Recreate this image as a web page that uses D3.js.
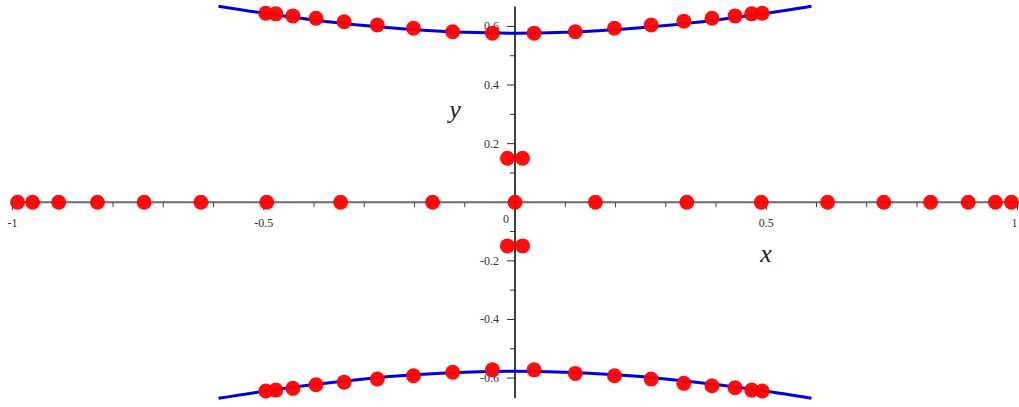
<!DOCTYPE html>
<html>
<head>
<meta charset="utf-8">
<script src="https://cdn.jsdelivr.net/npm/d3@7"></script>
<style>
  body { margin: 0; background: #fff; }
  svg { display: block; }
  text { font-family: "Liberation Serif", "DejaVu Serif", serif; }
</style>
</head>
<body>
<svg id="chart" width="1019" height="407"></svg>
<script>
// points on the x axis
var axisX = [-0.99, -0.96, -0.908, -0.831, -0.738, -0.625, -0.494, -0.347, -0.164, 0,
             0.16, 0.342, 0.49, 0.622, 0.734, 0.827, 0.902, 0.956, 0.988];

// points near the centre
var centreX = [-0.015, 0.015, -0.015, 0.015];
var centreY = [0.15, 0.15, -0.149, -0.149];

// upper branch points
var upperX = [-0.496, -0.476, -0.442, -0.396, -0.340, -0.274, -0.202, -0.124, -0.045,
              0.038, 0.120, 0.198, 0.271, 0.336, 0.392, 0.438, 0.471, 0.492];
var upperY = [0.645, 0.643, 0.636, 0.628, 0.616, 0.605, 0.594, 0.582, 0.577,
              0.577, 0.582, 0.594, 0.605, 0.618, 0.628, 0.636, 0.643, 0.645];

// lower branch points
var lowerX = upperX;
var lowerY = [-0.644, -0.641, -0.635, -0.623, -0.614, -0.603, -0.592, -0.580, -0.572,
              -0.572, -0.584, -0.592, -0.603, -0.618, -0.626, -0.633, -0.641, -0.644];

// blue curves
var curveX = [-0.59, -0.5, -0.4, -0.3, -0.2, -0.1, 0, 0.1, 0.2, 0.3, 0.4, 0.5, 0.59];
var curveUpper = [0.669, 0.645, 0.622, 0.603, 0.589, 0.580, 0.577, 0.580, 0.589, 0.603, 0.622, 0.645, 0.669];
var curveLower = [-0.669, -0.645, -0.622, -0.603, -0.589, -0.580, -0.577, -0.580, -0.589, -0.603, -0.622, -0.645, -0.669];

var xTicks = [-1, -0.5, 0.5, 1];
var xMinor = [-0.9, -0.8, -0.7, -0.6, -0.4, -0.3, -0.2, -0.1, 0.1, 0.2, 0.3, 0.4, 0.6, 0.7, 0.8, 0.9];
var yTicks = [0.6, 0.4, 0.2, -0.2, -0.4, -0.6];
var yMinor = [0.5, 0.3, 0.1, -0.1, -0.3, -0.5];

var svg = d3.select("#chart");

var x = d3.scaleLinear().domain([-1, 1]).range([12.5, 1017.5]);
var y = d3.scaleLinear().domain([-0.668, 0.668]).range([398, 6.5]);

// horizontal axis
var xAxis = svg.append("g");
xAxis.append("line")
    .attr("x1", x(-1)).attr("x2", x(1))
    .attr("y1", y(0)).attr("y2", y(0))
    .attr("stroke", "#6b6b6b").attr("stroke-width", 2);
xAxis.selectAll(".major").data(xTicks).enter().append("line")
    .attr("x1", d => x(d)).attr("x2", d => x(d))
    .attr("y1", y(0)).attr("y2", y(0) + 8)
    .attr("stroke", "#444").attr("stroke-width", 1);
xAxis.selectAll(".minor").data(xMinor).enter().append("line")
    .attr("x1", d => x(d)).attr("x2", d => x(d))
    .attr("y1", y(0)).attr("y2", y(0) + 5)
    .attr("stroke", "#444").attr("stroke-width", 1);
xAxis.selectAll(".lbl").data(xTicks).enter().append("text")
    .attr("x", d => x(d) + (d === 1 ? -3 : 0))
    .attr("y", y(0) + 25)
    .attr("text-anchor", "middle")
    .attr("font-size", 12)
    .attr("fill", "#333")
    .text(d => d);
xAxis.append("text")
    .attr("x", x(0) - 9).attr("y", y(0) + 21)
    .attr("text-anchor", "middle")
    .attr("font-size", 12).attr("fill", "#333")
    .text("0");

// vertical axis
var yAxis = svg.append("g");
yAxis.append("line")
    .attr("x1", x(0)).attr("x2", x(0))
    .attr("y1", y(0.668)).attr("y2", y(-0.668))
    .attr("stroke", "#000").attr("stroke-width", 1.5);
yAxis.selectAll(".major").data(yTicks).enter().append("line")
    .attr("x1", x(0) - 8).attr("x2", x(0))
    .attr("y1", d => y(d)).attr("y2", d => y(d))
    .attr("stroke", "#333").attr("stroke-width", 1);
yAxis.selectAll(".minor").data(yMinor).enter().append("line")
    .attr("x1", x(0) - 5).attr("x2", x(0))
    .attr("y1", d => y(d)).attr("y2", d => y(d))
    .attr("stroke", "#333").attr("stroke-width", 1);
yAxis.selectAll(".lbl").data(yTicks).enter().append("text")
    .attr("x", x(0) - 16)
    .attr("y", d => y(d) + 4)
    .attr("text-anchor", "end")
    .attr("font-size", 12)
    .attr("fill", "#333")
    .text(d => d);

// axis titles
svg.append("text")
    .attr("x", 766).attr("y", 262)
    .attr("text-anchor", "middle")
    .attr("font-size", 26).attr("font-style", "italic")
    .attr("fill", "#222")
    .text("x");
svg.append("text")
    .attr("x", 455).attr("y", 118)
    .attr("text-anchor", "middle")
    .attr("font-size", 26).attr("font-style", "italic")
    .attr("fill", "#222")
    .text("y");

// curves
var line = d3.line().x(d => x(d[0])).y(d => y(d[1])).curve(d3.curveMonotoneX);
[curveUpper, curveLower].forEach(function(vals) {
  svg.append("path")
      .datum(curveX.map((cx, i) => [cx, vals[i]]))
      .attr("d", line)
      .attr("fill", "none")
      .attr("stroke", "#0000dd")
      .attr("stroke-width", 3);
});

// points
var pts = []
  .concat(axisX.map(d => [d, 0]))
  .concat(centreX.map((d, i) => [d, centreY[i]]))
  .concat(upperX.map((d, i) => [d, upperY[i]]))
  .concat(lowerX.map((d, i) => [d, lowerY[i]]));

svg.selectAll(".pt").data(pts).enter().append("circle")
    .attr("cx", d => x(d[0]))
    .attr("cy", d => y(d[1]))
    .attr("r", 7.5)
    .attr("fill", "#ff0000")
    .attr("fill-opacity", 0.95);
</script>
</body>
</html>
